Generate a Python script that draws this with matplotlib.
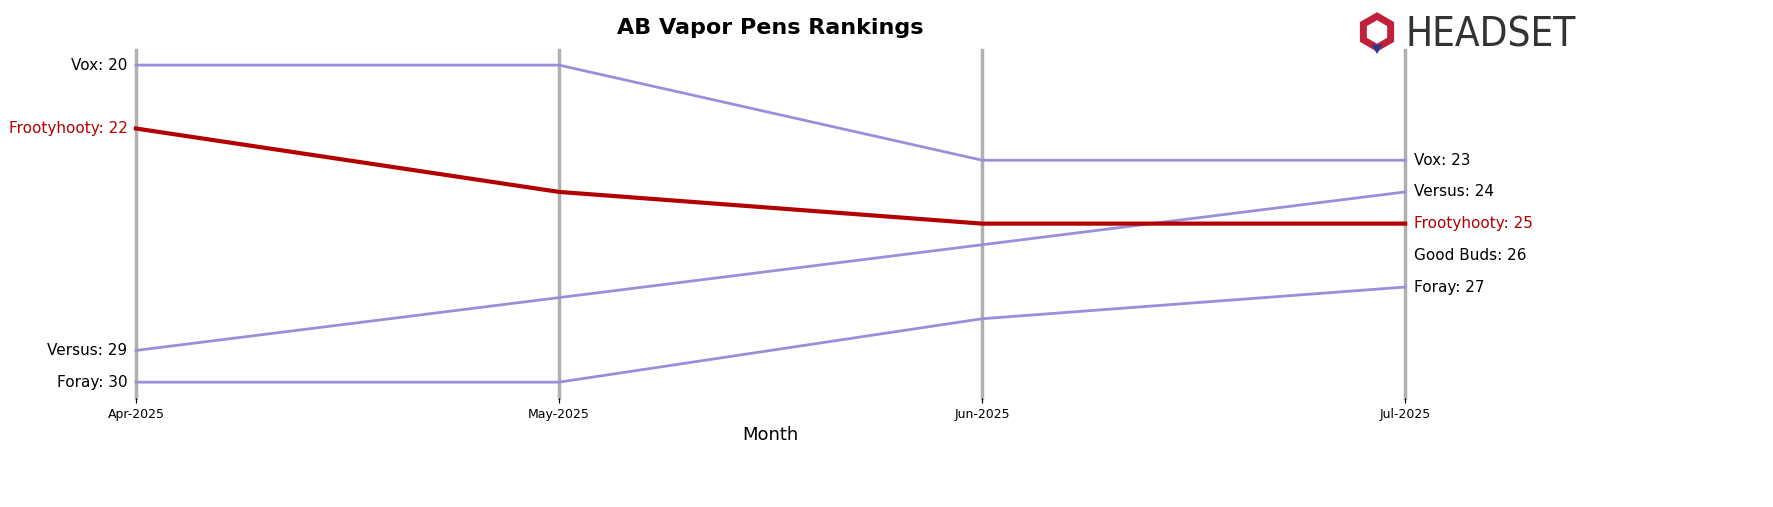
import matplotlib
matplotlib.use("Agg")
import matplotlib.pyplot as plt
from matplotlib.patches import RegularPolygon
import numpy as np

months = ["Apr-2025", "May-2025", "Jun-2025", "Jul-2025"]
brands = ["Vox", "Frootyhooty", "Versus", "Foray", "Good Buds"]
ranks = {
    "Vox": [20, 20, 23, 23],
    "Frootyhooty": [22, 24, 25, 25],
    "Versus": [29, None, None, 24],
    "Foray": [30, 30, 28, 27],
    "Good Buds": [None, None, None, 26],
}
highlight = "Frootyhooty"

fig = plt.figure(figsize=(17.73, 5.07), dpi=100)
ax = fig.add_axes([0.0767, 0.215, 0.7158, 0.686])
x = np.arange(len(months))
for xi in x:
    ax.axvline(xi, color="#b0b0b0", lw=2.5, zorder=0, clip_on=False)

for b in brands:
    r = ranks[b]
    pts = [(i, v) for i, v in enumerate(r) if v is not None]
    xs = [p[0] for p in pts]; ys = [p[1] for p in pts]
    hl = b == highlight
    col = "#b30000" if hl else "#9b8fdc"
    if len(pts) > 1:
        ax.plot(xs, ys, color=col, lw=3 if hl else 2, zorder=3 if hl else 2, clip_on=False)
    tc = "#b30000" if hl else "black"
    if r[0] is not None:
        ax.text(-0.02, r[0], f"{b}: {r[0]}", ha="right", va="center", fontsize=11, color=tc)
    if r[-1] is not None:
        ax.text(3.02, r[-1], f"{b}: {r[-1]}", ha="left", va="center", fontsize=11, color=tc)

ax.set_xlim(0, 3)
ax.set_ylim(30.5, 19.53)
ax.set_xticks(x)
ax.set_xticklabels(months, fontsize=9)
ax.set_yticks([])
ax.set_xlabel("Month", fontsize=13)
for s in ax.spines.values():
    s.set_visible(False)
ax.set_title("AB Vapor Pens Rankings", fontsize=16, fontweight="bold", pad=12)
fig.text(0.793, 0.93, "HEADSET", fontsize=29, color="#333333", va="center", ha="left",
         stretch="condensed")
lax = fig.add_axes([1356 / 1773, 1 - 54 / 507, 42 / 1773, 42 / 507])
lax.set_xlim(-1, 1); lax.set_ylim(-1, 1); lax.axis("off")
lax.add_patch(RegularPolygon((0, 0.05), numVertices=6, radius=0.75, orientation=0,
                             facecolor="none", edgecolor="#c0203a", lw=5))
lax.add_patch(RegularPolygon((0, -0.7), numVertices=3, radius=0.3, orientation=np.pi,
                             facecolor="#2b3a8f"))
fig.savefig("out.png", dpi=100)
